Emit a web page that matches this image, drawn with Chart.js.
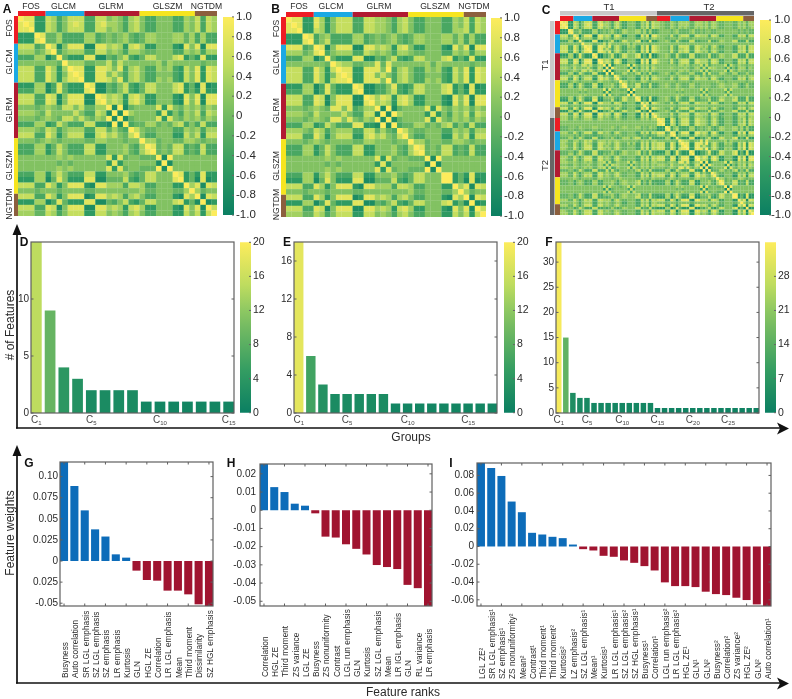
<!DOCTYPE html>
<html><head><meta charset="utf-8">
<style>
html,body{margin:0;padding:0;background:#fff;overflow:hidden}
#page{position:relative;width:792px;height:699px;overflow:hidden}
canvas{position:absolute}
svg{position:absolute;left:0;top:0}
</style>
<script src="https://cdn.jsdelivr.net/npm/chart.js@4/dist/chart.umd.js"></script>
</head><body><div id="page"></div>
<script>
// ---------- values ----------
const groupNames = ['FOS','GLCM','GLRM','GLSZM','NGTDM'];
const groupSizes = [5,7,10,10,4];
const timeNames = ['T1','T2'];
const heatTickValues = [-1,-0.8,-0.6,-0.4,-0.2,0,0.2,0.4,0.6,0.8,1];
const heatTickLabels = ['-1.0','-0.8','-0.6','-0.4','-0.2','0','0.2','0.4','0.6','0.8','1.0'];
const heatTickLabelsC = ['-1.0','-0.8','-0.6','-0.4','-0.2',' 0',' 0.2',' 0.4',' 0.6',' 0.8',' 1.0'];

// correlation levels: digit 0..9 stands for -1..1
const corrA = [
"98822 7635777 3377565367 5335553365 7376",
"89822 7635787 3378665367 5335553365 7376",
"88922 7635777 3377565367 5335553365 7376",
"22298 4463333 6634545643 4665556646 3633",
"22289 4463333 6634545643 4665556646 3633",
"77734 9715888 1188676278 6225552185 8188",
"66645 7935666 3377565366 5445553365 6366",
"33366 1394222 8811435732 4775557824 2822",
"55555 5549666 4455747555 5556465555 5455",
"77733 8626988 2288758367 5336563275 8287",
"77733 8625898 2288575367 5335553275 8287",
"77733 8626889 2288758367 5336563275 8287",
"22266 1384222 9811435732 4775557824 1812",
"33366 1384222 8911435732 4775557824 2822",
"77733 8715888 1198676278 6225552185 8188",
"77733 8715888 1189676278 6225552185 8188",
"55545 6547757 4466919145 5558285465 6465",
"66654 7555575 3376191965 5552825365 7376",
"55545 6547757 5465919145 5558285465 6465",
"33366 2375333 7722191934 4664546735 3733",
"66654 7635666 3377464397 5445553365 6366",
"77733 8625777 2278675479 5335552275 7277",
"55545 6545555 4466555455 9664554466 5455",
"33366 2475333 7722555643 6984547734 3733",
"33366 2475333 7722555643 6894547734 3733",
"55555 5565655 5555828455 4449195555 5555",
"55555 5545455 5555282555 5551915555 5555",
"55555 5565655 5555828455 4449195555 5555",
"33366 2575333 7722555643 4775559824 2822",
"22266 1485222 8811444732 4775558924 1812",
"77733 8625888 2188666377 6335552296 8187",
"55545 5545555 4455555555 6445554469 6455",
"77733 8625888 1288676367 5335552186 9187",
"22266 1384222 8811435732 4775557824 1912",
"77733 8715888 1188676278 6225552185 8197",
"66644 7635777 2277565367 5335552275 7279"];

const corrB = [
"98822 8625777 3377665367 5335553365 7376",
"89822 8625777 3377665367 5335553365 7376",
"88922 7625777 3377665367 5335553366 7376",
"22298 3563333 6634545643 4665556646 3633",
"22289 3573333 6634545643 4665556646 3633",
"88834 9815888 1188676278 5225552185 8188",
"66645 8935666 3376565366 5445553365 6366",
"33366 1394222 8811435732 3775557824 2822",
"55555 5549766 4455848555 5556465555 5455",
"77733 8627988 2288859367 5336563275 8287",
"77733 8625898 2288575367 5335553275 8287",
"77733 8627889 2288859367 5336563275 8287",
"22266 1384222 9811335832 3775557824 1812",
"33366 1384222 8911335732 4775557824 2822",
"77733 8715888 1198687278 6225552185 8188",
"77733 8715888 1189676278 6225552185 8188",
"55545 6548858 3466919145 5558285465 6465",
"66654 7555575 3377191965 5552825365 7376",
"55545 6548858 5465919145 5558285465 6465",
"33366 2375333 8822191934 4664546735 3733",
"66654 7635666 3377464397 5445553365 6366",
"77733 8625777 2278675479 5335552275 7277",
"55545 6545555 4466555455 9664554466 5455",
"33366 2475333 7722555643 6984547734 3733",
"33366 2475333 7722555643 6894547734 3733",
"55555 5565655 5555828455 4449195555 5555",
"55555 5545455 5555282555 5551915555 5555",
"55555 5565655 5555828455 4449195555 5555",
"33366 2575333 7722555643 4775559924 2822",
"22266 1485222 8811444732 4775559924 1812",
"77733 8625888 2188666377 6335552296 8187",
"55545 5545555 4455555555 6445554469 6455",
"77733 8625888 1288676367 5335552186 9187",
"22266 1384222 8811435732 4775557824 1912",
"77733 8715888 1188676278 6225552185 8197",
"66644 7635777 2277565367 5335552275 7279"];

// T1 rows against T2 columns of panel C
const corrCross = [
"65544 6546666 4466656466 5445554465 6466",
"65544 6546666 4466656466 5445554465 6466",
"65544 6546565 4465656466 5445554465 6456",
"45555 4564444 5644545544 5555555545 4544",
"45555 4564444 5644545544 5555555545 4544",
"65554 7436777 3377666377 6335553376 7377",
"55544 5546555 4555555455 5555554455 5455",
"45565 3374333 7733444733 4665557733 3733",
"55555 5555555 5555555555 5555555555 5555",
"65554 7437777 3377656367 5335553376 7377",
"65554 7436677 3377565366 5445553366 7377",
"65554 7437677 3377656367 5335553376 7377",
"45565 3374333 7733444733 4665557733 3733",
"45565 3374333 7733444733 4665557733 3733",
"65554 7436777 3377666377 6335553376 7377",
"65554 7436777 3377666377 6335553376 7377",
"55555 5546656 4555737355 5557275465 5455",
"55555 6555565 4466373766 5553735366 6365",
"55555 5546656 4555737355 5557275465 5455",
"45565 3465444 6633373744 4665446634 4644",
"55554 6546666 4466464466 5545554465 6466",
"65544 7436777 3377666377 5335553376 7367",
"55555 5545555 4555555555 6554555555 5455",
"45565 4465444 6644555544 5665556643 4644",
"45565 4465444 6644555544 5665556643 4644",
"55555 5565655 5555737455 5557375555 5555",
"55555 5545455 5555373555 5553735555 5555",
"55555 5565655 5555737455 5557375555 5555",
"45565 3475333 6633555633 4665556733 3733",
"45565 3374333 7733444733 4775557733 3733",
"65544 7436777 3377666377 6335553376 7377",
"55555 5545555 5555555555 5555554455 5455",
"65544 7436777 3377666367 5335553376 7367",
"45565 3374333 7733444733 4665557733 3733",
"65554 7436777 3377666377 6335553376 7377",
"65554 6436666 3366655366 5345553366 6366"];

const countsD = [15,9,4,3,2,2,2,2,1,1,1,1,1,1,1];
const countsE = [18,6,3,2,2,2,2,2,1,1,1,1,1,1,1,1,1];
const countsF = [34,15,4,3,3,2,2,2,2,2,2,2,2,2,1,1,1,1,1,1,1,1,1,1,1,1,1,1,1];
const tickGroupsD = [1,5,10,15];
const tickGroupsE = [1,5,10,15];
const tickGroupsF = [1,5,10,15,20,25];
const yTicksD = [0,5,10];
const yTicksE = [0,4,8,12,16];
const yTicksF = [0,5,10,15,20,25,30];
const barTicks20 = [0,4,8,12,16,20];
const barTicks35 = [0,7,14,21,28];

const featuresG = ['Busyness','Auto correlation','SR LGL emphasis','SZ LGL emphasis','SZ emphasis','LR emphasis','Kurtosis','GLN','HGL ZE','Correlation','LR LGL emphasis','Mean','Third moment','Dissimilarity','SZ HGL emphasis'];
const weightsG = [0.1173,0.0889,0.060,0.0375,0.029,0.0079,0.004,-0.0114,-0.0225,-0.0233,-0.0351,-0.0351,-0.0395,-0.0513,-0.0533];
const yTicksG = [-0.05,-0.025,0,0.025,0.05,0.075,0.10];
const yLabelsG = ['-0.05','0.025','0','0.025','0.05','0.075','0.10'];

const featuresH = ['Correlation','HGL ZE','Third moment','ZS variance','LGL ZE','Busyness','ZS nonuniformity','Contrast','LGL run emphasis','GLN','Kurtosis','SZ LGL emphasis','Mean','LR IGL emphasis','GLN','RL variance','LR emphasis'];
const weightsH = [0.0254,0.0127,0.010,0.0036,0.0025,-0.0017,-0.0145,-0.015,-0.0187,-0.0212,-0.0243,-0.0301,-0.0312,-0.0323,-0.041,-0.0428,-0.0526];
const yTicksH = [-0.05,-0.04,-0.03,-0.02,-0.01,0,0.01,0.02];
const yLabelsH = ['-0.05','-0.04','-0.03','-0.02','-0.01','0','0.01','0.02'];

const featuresI = ['LGL ZE²','SR LGL emphasis¹','SZ emphasis¹','ZS nonuniformity²','Mean²','Contrast¹','Third moment¹','Third moment²','Kurtosis²','LZ emphasis²','SZ LGL emphasis¹','Mean¹','Kurtosis¹','LR LGL emphasis¹','SZ LGL emphasis²','SZ HGL emphasis¹','Busyness¹','Correlation¹','LGL run emphasis²','LR LGL emphasis²','HGL ZE¹','GLN¹','GLN²','Busyness²','Correlation²','ZS variance²','HGL ZE²','GLN²','Auto correlation¹'];
const weightsI = [0.094,0.0884,0.0794,0.0506,0.0386,0.0154,0.0135,0.0109,0.0094,0.0022,-0.003,-0.0045,-0.0105,-0.0116,-0.0157,-0.0184,-0.0221,-0.027,-0.0404,-0.0446,-0.0446,-0.0457,-0.0509,-0.0536,-0.0547,-0.0577,-0.0603,-0.0652,-0.067];
const yTicksI = [-0.06,-0.04,-0.02,0,0.02,0.04,0.06,0.08];
const yLabelsI = ['-0.06','-0.04','-0.02','0','0.02','0.04','0.06','0.08'];

// ---------- styling and helpers ----------
const FONT = '"Liberation Sans", Arial, sans-serif';
const TEXT = '#2a2a2a';
const groupColors = ['#ed1c24','#1aa9e4','#b11a32','#f6e51f','#8c5f3e'];
const timeColors = ['#c9c9c9','#666666'];
const BLUE = '#0d6cb9', RED = '#a01430';
const mapStops = [[0,[11,127,98]],[0.25,[52,157,98]],[0.5,[115,186,98]],[0.6,[142,200,98]],[0.75,[190,220,95]],[1,[253,236,92]]];
Chart.defaults.font.family = FONT;
Chart.defaults.color = TEXT;
Chart.defaults.animation = false;
Chart.defaults.events = [];
Chart.defaults.plugins.legend.display = false;
Chart.defaults.plugins.tooltip.enabled = false;

const page = document.getElementById('page');
function colormap(t){
  t = Math.max(0,Math.min(1,t));
  for(let i=1;i<mapStops.length;i++){
    if(t<=mapStops[i][0]){
      const a=mapStops[i-1],b=mapStops[i],f=(t-a[0])/(b[0]-a[0]);
      return 'rgb('+a[1].map((c,k)=>Math.round(c+(b[1][k]-c)*f)).join(',')+')';
    }
  }
  return 'rgb(253,236,92)';
}
function parseRows(rows){ return rows.map(r=>r.replace(/ /g,'').split('').map(d=>-1+2*Number(d)/9)); }
function addCanvas(x,y,w,h,extra){
  const c=document.createElement('canvas');
  c.width=w;c.height=h;
  c.style.cssText='left:'+x+'px;top:'+y+'px;width:'+w+'px;height:'+h+'px;'+(extra||'');
  page.appendChild(c);
  return c;
}
function framePlugin(o){
  return {id:'frameTicks',afterDraw(chart){
    const a=chart.chartArea,c=chart.ctx;
    c.save();c.strokeStyle=o.color||'#5f5f5f';c.lineWidth=o.width||1.2;
    if(o.box)c.strokeRect(a.left,a.top,a.width,a.height);
    c.lineWidth=1;c.beginPath();
    const L=o.len||2.5;
    chart.scales.y.ticks.forEach(t=>{
      const p=chart.scales.y.getPixelForValue(t.value);
      if(o.left!==false){c.moveTo(a.left,p);c.lineTo(a.left+L,p);}
      c.moveTo(a.right,p);c.lineTo(a.right-L,p);
    });
    if(o.xTicks){
      chart.scales.x.ticks.forEach(t=>{
        const p=chart.scales.x.getPixelForValue(t.value);
        c.moveTo(p,a.bottom);c.lineTo(p,a.bottom-L);
        c.moveTo(p,a.top);c.lineTo(p,a.top+L);
      });
    }
    c.stroke();c.restore();
  }};
}
function groupLabelPlugin(tickGroups){
  return {id:'groupLabels',afterDraw(chart){
    const c=chart.ctx,a=chart.chartArea,s=chart.scales.x;
    c.save();c.fillStyle='#444';c.textBaseline='alphabetic';c.textAlign='left';
    tickGroups.forEach(g=>{
      const sub=String(g);
      c.font='10px '+FONT;const w1=c.measureText('C').width;
      c.font='6px '+FONT;const w2=c.measureText(sub).width;
      const x=s.getPixelForValue(g)-(w1+w2)/2,y=a.bottom+10;
      c.font='10px '+FONT;c.fillText('C',x,y);
      c.font='6px '+FONT;c.fillText(sub,x+w1,y+2);
    });
    c.restore();
  }};
}
function featureLabelPlugin(names,bottom,canvasTop){
  return {id:'featureLabels',afterDraw(chart){
    const c=chart.ctx,s=chart.scales.x;
    c.save();c.font='8.3px '+FONT;c.fillStyle=TEXT;c.textAlign='left';c.textBaseline='middle';
    names.forEach((n,i)=>{
      c.save();c.translate(s.getPixelForValue(i+1)+1.5,bottom-canvasTop);c.rotate(-Math.PI/2);c.fillText(n,0,0);c.restore();
    });
    c.restore();
  }};
}
function heatmap(x,y,w,h,matrix){
  const n=matrix.length,points=[];
  matrix.forEach((row,r)=>row.forEach((v,c)=>points.push({x:c,y:r,v})));
  const radius=(w/n)*1.04/Math.SQRT2;
  new Chart(addCanvas(x,y,w,h,'filter:blur(0.45px);'),{
    type:'scatter',
    data:{datasets:[{data:points,pointStyle:'rect',pointRadius:radius,pointBorderWidth:0,
      pointBackgroundColor:ctx=>colormap((ctx.raw.v+1)/2)}]},
    options:{responsive:false,layout:{autoPadding:false,padding:0},
      scales:{x:{type:'linear',display:false,min:-0.5,max:n-0.5},
              y:{type:'linear',display:false,min:-0.5,max:n-0.5,reverse:true}}}
  });
}
function colorbar(x,y,w,h,min,max,tickVals,tickLabs,fontSize,tickPad){
  const pad=8,side=34;
  new Chart(addCanvas(x,y-pad,w+side,h+2*pad),{
    type:'bar',
    data:{labels:[''],datasets:[{data:[[min,max]],barPercentage:1,categoryPercentage:1,borderSkipped:false,
      backgroundColor:ctx=>{
        const a=ctx.chart.chartArea;if(!a)return colormap(0);
        const g=ctx.chart.ctx.createLinearGradient(0,a.bottom,0,a.top);
        mapStops.forEach(s=>g.addColorStop(s[0],'rgb('+s[1].join(',')+')'));
        return g;
      }}]},
    options:{responsive:false,layout:{autoPadding:false,padding:{top:pad,bottom:pad,left:0,right:0}},
      scales:{x:{display:false},
        y:{position:'right',min,max,grid:{display:false,drawTicks:false},border:{display:false},
          afterFit:s=>{s.width=side;},
          afterBuildTicks:s=>{s.ticks=tickVals.map(v=>({value:v}));},
          ticks:{autoSkip:false,padding:tickPad===undefined?2:tickPad,font:{size:fontSize},color:TEXT,callback:(v,i)=>tickLabs[i]}}}},
    plugins:[framePlugin({left:false,len:2,color:'#666',box:false})]
  });
}
function barPanel(o){
  const n=o.values.length,ml=32,pt=8,mr=4,bw=0.78;
  const cw=ml+o.w+mr,ch=pt+o.h+o.below;
  new Chart(addCanvas(o.x-ml,o.y-pt,cw,ch),{
    type:'bar',
    data:{datasets:[{data:o.values.map((v,i)=>({x:i+1,y:v})),backgroundColor:o.colors,
      barPercentage:bw,categoryPercentage:1,borderSkipped:false}]},
    options:{responsive:false,layout:{autoPadding:false,padding:{top:pt,bottom:o.below,left:0,right:mr}},
      scales:{
        x:{type:'linear',display:false,offset:false,min:1-bw/2,max:n+bw/2,
          afterBuildTicks:s=>{s.ticks=o.values.map((v,i)=>({value:i+1}));}},
        y:{min:o.yMin,max:o.yMax,grid:{display:false,drawTicks:false},border:{display:false},
          afterFit:s=>{s.width=ml;},
          afterBuildTicks:s=>{s.ticks=o.yTicks.map(v=>({value:v}));},
          ticks:{autoSkip:false,padding:o.tickPad||2,font:{size:o.tickFont||10},color:TEXT,
            callback:(v,i)=>o.yLabels?o.yLabels[i]:String(v)}}}},
    plugins:[framePlugin({box:true,xTicks:o.xTicks}),o.labelPlugin]
  });
}

// ---------- panels ----------
const A=parseRows(corrA),B=parseRows(corrB),X=parseRows(corrCross);
const corrC=[];
A.forEach((row,r)=>corrC.push(row.concat(X[r])));
B.forEach((row,r)=>corrC.push(X.map(xr=>xr[r]).concat(row)));

heatmap(18,16,199,200,A);
heatmap(286,17,200,200,B);
heatmap(560,21,194,194,corrC);
colorbar(223,16,11,200,-1,1,heatTickValues,heatTickLabels,11.5);
colorbar(491,17,11,200,-1,1,heatTickValues,heatTickLabels,11.5);
colorbar(760,20,11,195,-1,1,heatTickValues,heatTickLabelsC,11.5,0);

const countPanels=[
 {x:31,w:203,values:countsD,yMax:15,yTicks:yTicksD,ticks:tickGroupsD,cmax:20,barX:240,barTicks:barTicks20},
 {x:294,w:203,values:countsE,yMax:18,yTicks:yTicksE,ticks:tickGroupsE,cmax:20,barX:504,barTicks:barTicks20},
 {x:556,w:203,values:countsF,yMax:34,yTicks:yTicksF,ticks:tickGroupsF,cmax:35,barX:765,barTicks:barTicks35}];
countPanels.forEach(p=>{
  barPanel({x:p.x,y:242,w:p.w,h:171,below:18,values:p.values,yMin:0,yMax:p.yMax,yTicks:p.yTicks,tickFont:10,
    colors:p.values.map(v=>colormap(v/p.cmax)),labelPlugin:groupLabelPlugin(p.ticks)});
  colorbar(p.barX,242,11,171,0,p.cmax,p.barTicks,p.barTicks.map(String),10.5);
});

const weightColors=vals=>vals.map(v=>v>=0?BLUE:RED);
barPanel({x:60,y:462,w:153,h:144,below:80,values:weightsG,yMin:-0.0533,yMax:0.1173,yTicks:yTicksG,yLabels:yLabelsG,tickFont:10,
  colors:weightColors(weightsG),xTicks:true,labelPlugin:featureLabelPlugin(featuresG,678,454)});
barPanel({x:260,y:462,w:172,h:144,below:80,values:weightsH,yMin:-0.0526,yMax:0.0254,yTicks:yTicksH,yLabels:yLabelsH,tickFont:10,tickPad:4,
  colors:weightColors(weightsH),xTicks:true,labelPlugin:featureLabelPlugin(featuresH,677,454)});
barPanel({x:477,y:462,w:294,h:144,below:80,values:weightsI,yMin:-0.067,yMax:0.094,yTicks:yTicksI,yLabels:yLabelsI,tickFont:10,tickPad:3,
  colors:weightColors(weightsI),xTicks:true,labelPlugin:featureLabelPlugin(featuresI,679,454)});

// ---------- annotation layer ----------
const NS='http://www.w3.org/2000/svg';
const svg=document.createElementNS(NS,'svg');
svg.setAttribute('width',792);svg.setAttribute('height',699);
page.appendChild(svg);
function el(name,attrs,text){
  const e=document.createElementNS(NS,name);
  Object.keys(attrs).forEach(k=>e.setAttribute(k,attrs[k]));
  if(text!==undefined)e.textContent=text;
  svg.appendChild(e);return e;
}
function txt(x,y,s,size,opts){
  opts=opts||{};
  const a={x,y,'font-family':FONT,'font-size':size,fill:opts.fill||TEXT,'text-anchor':opts.anchor||'middle','dominant-baseline':'central'};
  if(opts.bold)a['font-weight']='bold';
  if(opts.rot)a.transform='rotate(-90 '+x+' '+y+')';
  return el('text',a,s);
}
function strips(x,y,w,h,horizontal,sizes,colors){
  const total=sizes.reduce((p,q)=>p+q,0);let pos=0;
  sizes.forEach((s,i)=>{
    const a=pos/total,b=s/total;pos+=s;
    if(horizontal)el('rect',{x:x+a*w,y,width:b*w,height:h,fill:colors[i]});
    else el('rect',{x,y:y+a*h,width:w,height:b*h,fill:colors[i]});
  });
}
// heatmap group strips
strips(18,11,199,5,true,groupSizes,groupColors);
strips(14,16,4,200,false,groupSizes,groupColors);
strips(286,12,200,5,true,groupSizes,groupColors);
strips(281,17,5,200,false,groupSizes,groupColors);
strips(560,16,97,5,true,groupSizes,groupColors);
strips(657,16,97,5,true,groupSizes,groupColors);
strips(555,21,5,97,false,groupSizes,groupColors);
strips(555,118,5,97,false,groupSizes,groupColors);
strips(560,11,194,4.5,true,[1,1],timeColors);
strips(550,21,4.5,194,false,[1,1],timeColors);
// group names
const topA=[31,63.5,111,167.5,206.5],leftA=[28,62,110,165.5,204];
const topB=[299,331,379,435,474],leftB=[28.5,62.5,110.5,166,204.5];
groupNames.forEach((g,i)=>{
  txt(topA[i],6,g,8.6);txt(8.5,leftA[i],g,8.6,{rot:true});
  txt(topB[i],6,g,8.6);txt(275.5,leftB[i],g,8.6,{rot:true});
});
txt(609,6.5,timeNames[0],9.5);txt(709,6.5,timeNames[1],9.5);
txt(544,65,timeNames[0],9.5,{rot:true});txt(544,165.5,timeNames[1],9.5,{rot:true});
// panel letters
[['A',7,9],['B',275.5,9],['C',546,10],['D',24,242],['E',287,242],['F',549,242],['G',29,463],['H',231,463],['I',451,463]]
  .forEach(p=>txt(p[1],p[2],p[0],12,{bold:true,fill:'#111'}));
// large axes
const AX='#111';
el('line',{x1:17,y1:232,x2:17,y2:428.6,stroke:AX,'stroke-width':1.7});
el('line',{x1:16,y1:428,x2:780,y2:428,stroke:AX,'stroke-width':1.7});
el('polygon',{points:'17,224 12.5,235 21.5,235',fill:AX});
el('polygon',{points:'789,428.5 777,422.5 780,428.5 777,434.5',fill:AX});
el('line',{x1:17,y1:453,x2:17,y2:683.6,stroke:AX,'stroke-width':1.7});
el('line',{x1:16,y1:683,x2:780,y2:683,stroke:AX,'stroke-width':1.7});
el('polygon',{points:'17,445 12.5,456 21.5,456',fill:AX});
el('polygon',{points:'789,683.5 777,677.5 780,683.5 777,689.5',fill:AX});
txt(10,325,'# of Features',12,{rot:true});
txt(10,533,'Feature weights',12,{rot:true});
txt(411,437,'Groups',12);
txt(403,692,'Feature ranks',12);
</script>
</body></html>
